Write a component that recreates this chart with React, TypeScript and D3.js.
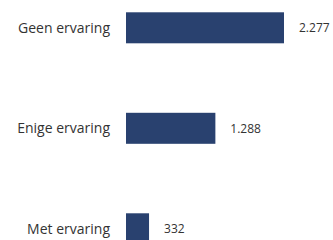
import { useEffect, useRef } from 'react';
import * as d3 from 'd3';

const categories = ['Geen ervaring', 'Enige ervaring', 'Met ervaring'];
const values = [2277, 1288, 332];
const valueLabels = ['2.277', '1.288', '332'];

export default function App() {
  const svgRef = useRef<SVGSVGElement>(null);

  useEffect(() => {
    if (!svgRef.current) return;
    const svg = d3.select(svgRef.current);
    svg.selectAll('*').remove();

    const width = 333;
    const height = 240;
    const x0 = 126;

    const xScale = d3.scaleLinear().domain([0, 2277]).range([x0, 284]);
    const yScale = d3
      .scaleBand<string>()
      .domain(categories)
      .range([-22.45, 279.05])
      .paddingInner(0.6915)
      .paddingOuter(0.6915 / 2);

    const data = categories.map((c, i) => ({ c, v: values[i], label: valueLabels[i] }));

    svg.attr('width', width).attr('height', height);

    svg
      .selectAll('.bar')
      .data(data)
      .enter()
      .append('rect')
      .attr('class', 'bar')
      .attr('x', xScale(0))
      .attr('y', (d) => yScale(d.c)!)
      .attr('width', (d) => xScale(d.v) - xScale(0))
      .attr('height', yScale.bandwidth())
      .attr('fill', '#29416f');

    svg
      .selectAll('.cat')
      .data(data)
      .enter()
      .append('text')
      .attr('class', 'cat')
      .attr('x', x0 - 16)
      .attr('y', (d) => yScale(d.c)! + yScale.bandwidth() / 2)
      .attr('dy', '0.35em')
      .attr('text-anchor', 'end')
      .style('font-family', '"Open Sans", sans-serif')
      .style('font-size', '14px')
      .style('fill', '#333')
      .text((d) => d.c);

    svg
      .selectAll('.val')
      .data(data)
      .enter()
      .append('text')
      .attr('class', 'val')
      .attr('x', (d) => xScale(d.v) + 15)
      .attr('y', (d) => yScale(d.c)! + yScale.bandwidth() / 2)
      .attr('dy', '0.35em')
      .style('font-family', '"Open Sans", sans-serif')
      .style('font-size', '12px')
      .style('fill', '#333')
      .text((d) => d.label);
  }, []);

  return (
    <div style={{ position: 'fixed', left: 0, top: 0, width: 333, height: 240, overflow: 'hidden', background: '#fff' }}>
      <svg ref={svgRef} style={{ display: 'block' }} />
    </div>
  );
}
